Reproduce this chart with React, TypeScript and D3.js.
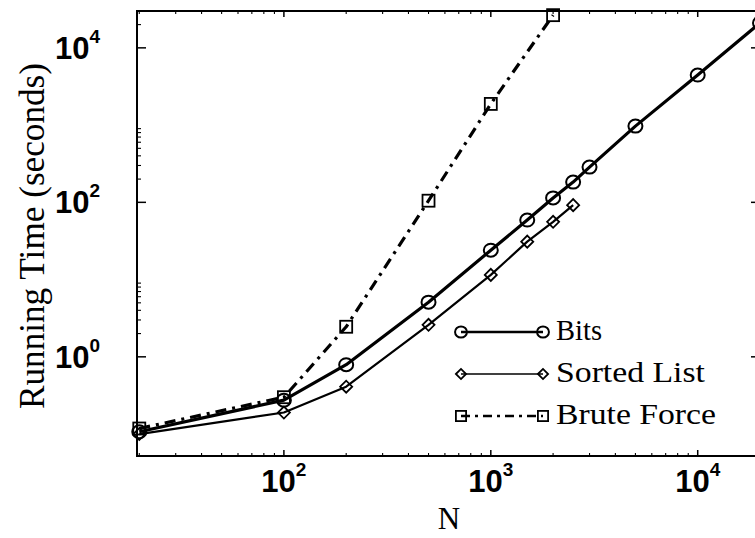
import React from "react";
import * as d3 from "d3";

// ---- data ----
const bitsN = [20, 100, 200, 500, 1000, 1500, 2000, 2500, 3000, 5000, 10000, 20000];
const bitsT = [0.107, 0.275, 0.79, 5.1, 24, 59, 114, 183, 286, 970, 4450, 21000];

const sortedN = [20, 100, 200, 500, 1000, 1500, 2000, 2500];
const sortedT = [0.1, 0.19, 0.41, 2.6, 11.5, 31, 56, 92];

const bruteN = [20, 100, 200, 500, 1000, 2000];
const bruteT = [0.118, 0.3, 2.45, 105, 1880, 26500];

const xTickExps = [2, 3, 4];
const yTickExps = [0, 2, 4];
const yMinorDecades = [0, 2, 4];
const xMinorDecades = [1, 2, 3, 4];

const legendLabels = ["Bits", "Sorted List", "Brute Force"];

const W = 755;
const H = 538;
const left = 137;
const right = 760;
const top = 11;
const bottom = 456;

const x = d3.scaleLog().domain([19.5, 20000]).range([left, right]);
const y = d3.scaleLog().domain([0.052, 30000]).range([bottom, top]);

const zip = (a: number[], b: number[]) => a.map((v, i) => [v, b[i]] as [number, number]);

const lineGen = d3
  .line<[number, number]>()
  .x((d) => x(d[0]))
  .y((d) => y(d[1]));

function Circle({ cx, cy, s = 1 }: { cx: number; cy: number; s?: number }) {
  return <ellipse cx={cx} cy={cy} rx={7 * s} ry={6.5 * s} fill="none" stroke="#000" strokeWidth={2} />;
}
function Diamond({ cx, cy, s = 1 }: { cx: number; cy: number; s?: number }) {
  const r = 6 * s;
  return (
    <path
      d={`M${cx - r},${cy} L${cx},${cy - r} L${cx + r},${cy} L${cx},${cy + r} Z`}
      fill="none"
      stroke="#000"
      strokeWidth={1.8}
    />
  );
}
function Square({ cx, cy, s = 1 }: { cx: number; cy: number; s?: number }) {
  const r = 6 * s;
  return <rect x={cx - r} y={cy - r} width={2 * r} height={2 * r} fill="none" stroke="#000" strokeWidth={1.8} />;
}

const series = [
  { data: zip(bitsN, bitsT), width: 3.2, dash: undefined as string | undefined, Marker: Circle },
  { data: zip(sortedN, sortedT), width: 2.2, dash: undefined as string | undefined, Marker: Diamond },
  { data: zip(bruteN, bruteT), width: 3.2, dash: "11,6,3,6", Marker: Square },
];

const legendTextLen = [46, 149, 160];

export default function App() {
  const yMinor: number[] = [];
  yMinorDecades.forEach((e) => {
    for (let k = 2; k <= 9; k++) yMinor.push(k * Math.pow(10, e));
  });
  const xMinor: number[] = [];
  xMinorDecades.forEach((e) => {
    for (let k = 2; k <= 9; k++) {
      const v = k * Math.pow(10, e);
      if (v >= 19.5 && v <= 20000) xMinor.push(v);
    }
  });

  return (
    <svg
      width={W}
      height={H}
      style={{ position: "absolute", left: 0, top: 0, background: "#fff" }}
    >
      <defs>
        <clipPath id="clipAll">
          <rect x={0} y={0} width={W} height={H} />
        </clipPath>
      </defs>
      <rect x={0} y={0} width={W} height={H} fill="#fff" />

      {/* axes box */}
      <rect x={left} y={top} width={right - left} height={bottom - top} fill="none" stroke="#000" strokeWidth={2} />

      {/* y ticks */}
      {yTickExps.map((e) => {
        const yy = y(Math.pow(10, e));
        return (
          <g key={"ym" + e}>
            <line x1={left} x2={left + 9} y1={yy} y2={yy} stroke="#000" strokeWidth={1.5} />
            <line x1={right} x2={right - 9} y1={yy} y2={yy} stroke="#000" strokeWidth={1.5} />
          </g>
        );
      })}
      {yMinor.map((v, i) => {
        const yy = y(v);
        if (yy < top || yy > bottom) return null;
        return (
          <g key={"yn" + i}>
            <line x1={left} x2={left + 4} y1={yy} y2={yy} stroke="#000" strokeWidth={1.1} />
            <line x1={right} x2={right - 4} y1={yy} y2={yy} stroke="#000" strokeWidth={1.1} />
          </g>
        );
      })}

      {/* x ticks */}
      {xTickExps.map((e) => {
        const xx = x(Math.pow(10, e));
        return (
          <g key={"xm" + e}>
            <line x1={xx} x2={xx} y1={bottom} y2={bottom - 6} stroke="#000" strokeWidth={1.5} />
            <line x1={xx} x2={xx} y1={top} y2={top + 6} stroke="#000" strokeWidth={1.5} />
          </g>
        );
      })}
      {xMinor.map((v, i) => {
        const xx = x(v);
        return (
          <g key={"xn" + i}>
            <line x1={xx} x2={xx} y1={bottom} y2={bottom - 3} stroke="#000" strokeWidth={1.1} />
            <line x1={xx} x2={xx} y1={top} y2={top + 3} stroke="#000" strokeWidth={1.1} />
          </g>
        );
      })}

      {/* tick labels */}
      {yTickExps.map((e) => (
        <text
          key={"yl" + e}
          x={100}
          y={y(Math.pow(10, e)) + 11}
          textAnchor="end"
          fontFamily="'Liberation Sans', Arial, sans-serif"
          fontWeight="bold"
          fontSize={31}
          fill="#000"
        >
          <tspan>10</tspan>
          <tspan dy={-16} fontSize={19}>
            {e}
          </tspan>
        </text>
      ))}
      {xTickExps.map((e) => (
        <text
          key={"xl" + e}
          x={x(Math.pow(10, e))}
          y={492}
          textAnchor="middle"
          fontFamily="'Liberation Sans', Arial, sans-serif"
          fontWeight="bold"
          fontSize={31}
          fill="#000"
        >
          <tspan>10</tspan>
          <tspan dy={-16} fontSize={19}>
            {e}
          </tspan>
        </text>
      ))}

      {/* axis titles */}
      <text
        x={449}
        y={529}
        textAnchor="middle"
        fontFamily="'Liberation Serif', 'Times New Roman', serif"
        fontSize={31}
        fill="#000"
      >
        N
      </text>
      <text
        transform={`translate(44, 236) rotate(-90)`}
        textAnchor="middle"
        fontFamily="'Liberation Serif', 'Times New Roman', serif"
        fontSize={35}
        fill="#000"
        textLength={346}
        lengthAdjust="spacingAndGlyphs"
      >
        Running Time (seconds)
      </text>

      {/* data */}
      <g clipPath="url(#clipAll)">
        {series.map((s, si) => (
          <g key={"s" + si}>
            <path
              d={lineGen(s.data) || ""}
              fill="none"
              stroke="#000"
              strokeWidth={s.width}
              strokeDasharray={s.dash}
              strokeLinejoin="round"
            />
            {s.data.map((d, i) => (
              <s.Marker key={i} cx={x(d[0])} cy={y(d[1])} />
            ))}
          </g>
        ))}
      </g>

      {/* legend */}
      {legendLabels.map((lab, i) => {
        const ly = 332 + i * 42;
        const s = series[i];
        return (
          <g key={"lg" + i}>
            <line
              x1={461}
              x2={543}
              y1={ly}
              y2={ly}
              stroke="#000"
              strokeWidth={s.width - 0.5}
              strokeDasharray={s.dash ? "9,5,3,5" : undefined}
            />
            <s.Marker cx={461} cy={ly} s={0.85} />
            <s.Marker cx={543} cy={ly} s={0.85} />
            <text
              x={556}
              y={ly + 8}
              fontFamily="'Liberation Serif', 'Times New Roman', serif"
              fontSize={30}
              fill="#000"
              textLength={legendTextLen[i]}
              lengthAdjust="spacingAndGlyphs"
            >
              {lab}
            </text>
          </g>
        );
      })}
    </svg>
  );
}
